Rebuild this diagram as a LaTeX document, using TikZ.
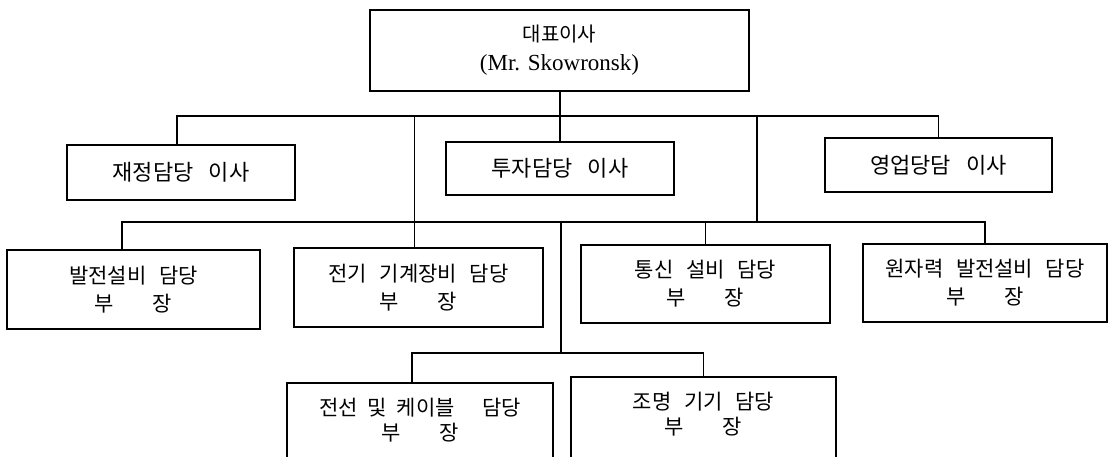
\documentclass[tikz,border=0pt]{standalone}
\usepackage{fontspec}
\setmainfont{Liberation Serif}
\newfontfamily\kr{Noto Sans CJK KR}
\newcommand\ws{\hspace{0.6em}}
\newcommand\bujang{부\hspace{1.85em}장}
\tikzset{
  box/.style={draw, line width=1.1pt, rectangle, inner sep=0pt, align=center,
    font=\kr\fontsize{21}{28}\selectfont},
  toprow/.style={box, font=\kr\fontsize{22}{28}\selectfont},
  lowbox/.style={draw, line width=1.1pt, rectangle, inner sep=0pt},
  lowtxt/.style={anchor=north, inner sep=0pt, align=center, yshift=-15pt,
    font=\kr\fontsize{21}{25}\selectfont},
  conn/.style={line width=1.1pt},
}
\begin{document}
\begin{tikzpicture}[x=1pt,y=-1pt]
\useasboundingbox (0,0) rectangle (1117,456);
\clip (0,0) rectangle (1117,456);
% top
\node[box, font=\kr\fontsize{20}{28}\selectfont, minimum width=379pt, minimum height=81pt] (ceo) at (559.5,50.5)
  {대표이사\\[1pt]{\rmfamily\fontsize{23}{29}\selectfont (Mr. Skowronsk)}};
% row 1
\node[toprow, minimum width=228pt, minimum height=55pt] (jae) at (181,172.5) {재정담당\hspace{0.7em}이사};
\node[toprow, minimum width=228pt, minimum height=53pt] (tooja) at (560,168.5) {투자담당\hspace{0.7em}이사};
\node[toprow, minimum width=227pt, minimum height=54pt] (yeong) at (938.5,165) {영업당담\hspace{0.7em}이사};
% row 2
\node[box, minimum width=253pt, minimum height=79pt] (bal) at (133.5,289.5) {발전설비\ws 담당\\\bujang};
\node[box, minimum width=249pt, minimum height=79pt] (jeongi) at (418.5,287.5) {전기\ws 기계장비\ws 담당\\\bujang};
\node[box, minimum width=249pt, minimum height=78pt] (tong) at (705.5,284) {통신\ws 설비\ws 담당\\\bujang};
\node[box, minimum width=244pt, minimum height=78pt] (won) at (985,283) {원자력\ws 발전설비\ws 담당\\\bujang};
% row 3 (cut off at the bottom)
\node[lowbox, minimum width=266pt, minimum height=120pt,
  label={[lowtxt]north:{전선\hspace{0.45em}및\hspace{0.5em}케이블\hspace{1.3em}담당\\\bujang}}] (jeonseon) at (420,443) {};
\node[lowbox, minimum width=265pt, minimum height=120pt,
  label={[lowtxt]north:{조명\ws 기기\ws 담당\\\bujang}}] (jomyeong) at (703.5,437) {};
% junctions
\coordinate (b1) at (560,116);
\coordinate (j12) at (757,116);
\coordinate (j21) at (757,222);
\coordinate (b2) at (122,222);
\coordinate (j23) at (561,222);
\coordinate (j32) at (561,353);
% connectors
\draw[conn] (ceo.south -| tooja.north) -- (tooja.north);
\draw[conn] ([xshift=-4pt]jae.north) -- ([xshift=-4pt]jae.north |- b1) -- (yeong.north |- b1) -- (yeong.north);
\draw[conn] ([xshift=-4pt]jeongi.north) -- ([xshift=-4pt]jeongi.north |- b1);
\draw[conn] (j12) -- (j21);
\draw[conn] ([xshift=-11.5pt]bal.north) -- ([xshift=-11.5pt]bal.north |- b2) -- (won.north |- b2) -- (won.north);
\draw[conn] (tong.north) -- (tong.north |- b2);
\draw[conn] (j23) -- (j32);
\draw[conn] ([xshift=-8pt]jeonseon.north) -- ([xshift=-8pt]jeonseon.north |- j32) -- (jomyeong.north |- j32) -- (jomyeong.north);
\end{tikzpicture}
\end{document}
